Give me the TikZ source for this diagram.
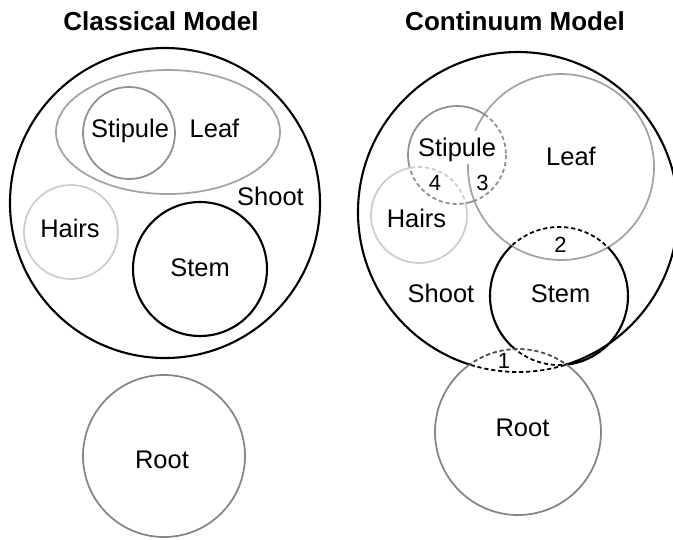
\documentclass[tikz,border=0pt]{standalone}
\usepackage{fontspec}
\setmainfont{Liberation Sans}
\usepackage{tikz}
\definecolor{stipgray}{HTML}{8F8F8F}
\definecolor{leafgray}{HTML}{A3A3A3}
\definecolor{hairgray}{HTML}{CDCDCD}
\definecolor{rootgray}{HTML}{858585}
\definecolor{cutgray}{HTML}{4A4A4A}
% outlines of the continuum model
\def\cShoot{(518,212) circle[radius=160]}
\def\cLeaf{(561,167) circle[radius=93]}
\def\cStip{(457,155) circle[radius=49]}
\def\cHairs{(419,215) circle[radius=48]}
\def\cStem{(559,296) circle[radius=69]}
\def\cRoot{(518,432) circle[radius=83]}
\def\cOut{(-60,-60) -- (-60,620) -- (740,620) -- (740,-60) -- cycle}

\begin{document}
\begin{tikzpicture}[x=0.02cm,y=-0.02cm,
  ring/.style={line width=1pt},
  cut/.style={line width=1pt,dash pattern=on 2.4pt off 1.6pt},
  lbl/.style={font=\fontsize{14.5}{17}\selectfont,text height=10.4pt,text depth=0pt,inner sep=0pt},
  num/.style={lbl,font=\fontsize{12.5}{15}\selectfont,text height=9pt},
  ttl/.style={lbl,font=\fontsize{14.8}{18}\selectfont\bfseries,text height=10.6pt}]
\useasboundingbox (0,0) rectangle (673,539);
% classical model
\draw[ring,line width=1.2pt] (165,203) circle[radius=155];
\draw[ring,leafgray] (168,132) ellipse[x radius=112,y radius=62];
\draw[ring,stipgray] (129,133) circle[radius=46];
\draw[ring,hairgray] (71,232) circle[radius=47];
\draw[ring,line width=1.2pt] (200,269) circle[radius=67];
\draw[ring,rootgray] (164,456) circle[radius=81];
% continuum model: overlaps are dashed
\begin{scope} \clip \cOut \cRoot; \draw[ring,line width=1.2pt] \cShoot; \end{scope}
\begin{scope} \clip \cRoot; \draw[cut] \cShoot; \end{scope}
\draw[ring,leafgray] \cLeaf;
\begin{scope} \clip \cOut \cLeaf; \clip \cOut \cHairs; \draw[ring,stipgray] \cStip; \end{scope}
\begin{scope} \clip \cLeaf; \draw[cut,stipgray] \cStip; \end{scope}
\begin{scope} \clip \cHairs; \draw[cut,stipgray] \cStip; \end{scope}
\begin{scope} \clip \cOut \cStip; \draw[ring,hairgray] \cHairs; \end{scope}
\begin{scope} \clip \cStip; \draw[cut,hairgray] \cHairs; \end{scope}
\begin{scope} \clip \cOut \cLeaf; \clip \cOut \cRoot; \draw[ring,line width=1.2pt] \cStem; \end{scope}
\begin{scope} \clip \cLeaf; \draw[cut] \cStem; \end{scope}
\begin{scope} \clip \cRoot; \draw[cut] \cStem; \end{scope}
\begin{scope} \clip \cOut \cShoot; \draw[ring,rootgray] \cRoot; \end{scope}
\begin{scope} \clip \cShoot; \draw[cut,cutgray] \cRoot; \end{scope}
% labels
\node[ttl] (tclass) at (161,21.5) {Classical Model};
\node[ttl] (tcont) at (515,21.5) {Continuum Model};
\node[lbl] (lstip) at (130,128.5) {Stipule};
\node[lbl] (lleaf) at (214.5,128.5) {Leaf};
\node[lbl] (lshoot) at (270.5,196.5) {Shoot};
\node[lbl] (lhairs) at (70,228.5) {Hairs};
\node[lbl] (lstem) at (200,267) {Stem};
\node[lbl] (lroot) at (162,459) {Root};
\node[lbl,fill=white,inner xsep=0.5pt,inner ysep=4pt] (cstip) at (457,147.5) {Stipule};
\node[lbl] (cleaf) at (571,156) {Leaf};
\node[lbl] (chairs) at (416.5,218.5) {Hairs};
\node[lbl] (cshoot) at (441,293.5) {Shoot};
\node[lbl] (cstem) at (560.5,293.5) {Stem};
\node[lbl] (croot) at (522.5,427.5) {Root};
\node[num] (n4) at (435,182.5) {4};
\node[num] (n3) at (482.5,182.5) {3};
\node[num] (n2) at (560.5,244.5) {2};
\node[num] (n1) at (504,361) {1};
\end{tikzpicture}
\end{document}
